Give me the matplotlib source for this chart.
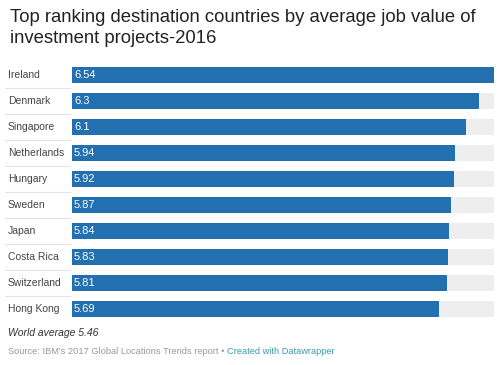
import matplotlib.pyplot as plt
import numpy as np

countries = ['Ireland', 'Denmark', 'Singapore', 'Netherlands', 'Hungary',
             'Sweden', 'Japan', 'Costa Rica', 'Switzerland', 'Hong Kong']
values = [6.54, 6.3, 6.1, 5.94, 5.92, 5.87, 5.84, 5.83, 5.81, 5.69]
value_labels = ['6.54', '6.3', '6.1', '5.94', '5.92', '5.87', '5.84', '5.83', '5.81', '5.69']

W, H = 499, 365
fig = plt.figure(figsize=(W / 100, H / 100), dpi=100)
plt.rcParams['font.family'] = ['Liberation Sans', 'DejaVu Sans']

left, right, top, bottom = 72, 494, 62, 322
ax = fig.add_axes([left / W, 1 - bottom / H, (right - left) / W, (bottom - top) / H])

y = np.arange(len(countries))
xmax = max(values)
ax.barh(y, [xmax] * len(values), height=0.62, color='#eeeeee', zorder=1)
ax.barh(y, values, height=0.62, color='#2270b0', zorder=2)
ax.set_xlim(0, xmax)
ax.set_ylim(len(countries) - 0.5, -0.5)
ax.axis('off')

lab_x = -(left - 8) / (right - left)
sep_x0 = -(left - 5) / (right - left)
for i, (c, lab) in enumerate(zip(countries, value_labels)):
    ax.text(lab_x, i, c, transform=ax.get_yaxis_transform(), ha='left', va='center',
            fontsize=7.5, color='#444444')
    ax.text(0.03, i, lab, ha='left', va='center', fontsize=8, color='white', zorder=3)
    if i < len(countries) - 1:
        ax.plot([sep_x0, -0.005], [i + 0.5, i + 0.5], transform=ax.get_yaxis_transform(),
                color='#e4e4e4', lw=0.8, clip_on=False)

fig.text(10 / W, 1 - 9 / H, 'Top ranking destination countries by average job value of',
         ha='left', va='top', fontsize=13.3, color='#222222')
fig.text(10 / W, 1 - 30 / H, 'investment projects-2016',
         ha='left', va='top', fontsize=13.3, color='#222222')
fig.text(8 / W, 1 - 333 / H, 'World average 5.46', ha='left', va='center',
         fontsize=7.5, style='italic', color='#333333')
t = fig.text(8 / W, 1 - 351 / H, "Source: IBM's 2017 Global Locations Trends report \u2022 ",
             ha='left', va='center', fontsize=6.7, color='#999999')
fig.canvas.draw()
bb = t.get_window_extent()
fig.text(bb.x1 / W, 1 - 351 / H, 'Created with Datawrapper', ha='left', va='center',
         fontsize=6.7, color='#3a9db0')

fig.savefig('out.png', dpi=100)
